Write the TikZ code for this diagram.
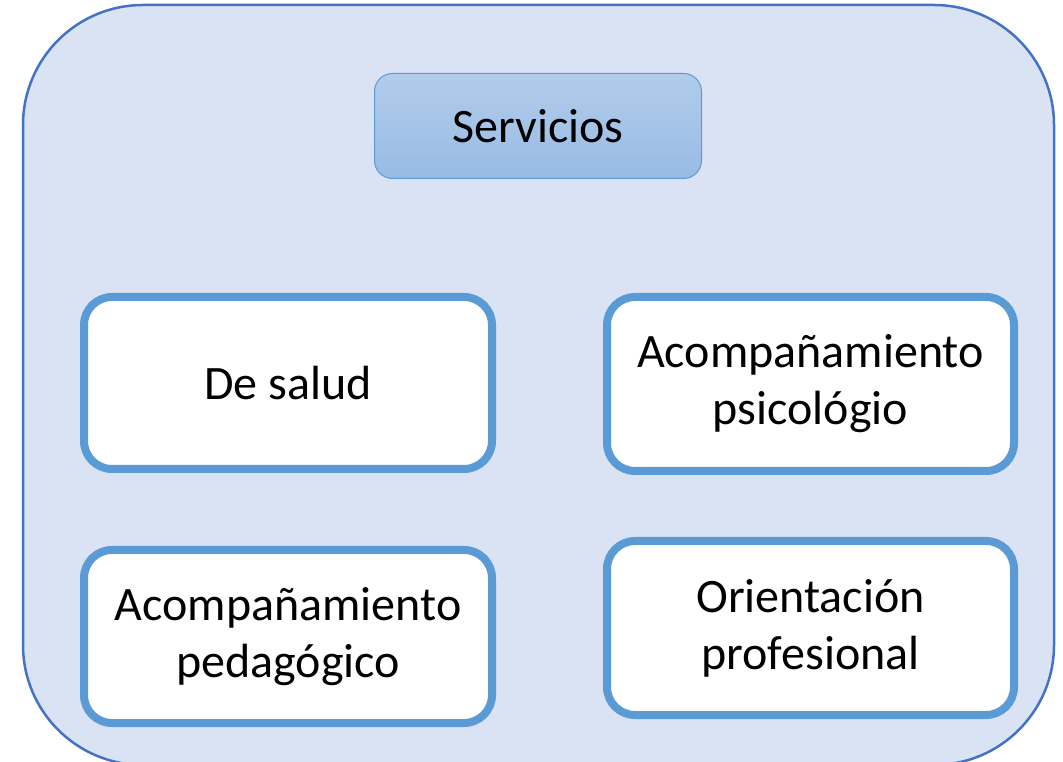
\documentclass[tikz,border=0pt]{standalone}
\usepackage{fontspec}
\setmainfont{Carlito}
\definecolor{outerfill}{HTML}{DAE3F3}
\definecolor{outerline}{HTML}{4472C4}
\definecolor{boxline}{HTML}{5B9BD5}
\definecolor{headtop}{HTML}{B2CCEA}
\definecolor{headbot}{HTML}{97BBE5}
\begin{document}
\begin{tikzpicture}[x=1pt,y=1pt,
  frame/.style={draw=outerline, fill=outerfill, line width=2.5pt, rounded corners=120pt, inner sep=0pt},
  head/.style={draw=boxline, line width=1pt, rounded corners=18pt, top color=headtop, bottom color=headbot, minimum width=327pt, minimum height=105pt, font=\fontsize{48}{56}\selectfont},
  item/.style={draw=boxline, fill=white, line width=8pt, rounded corners=28pt, inner sep=0pt, align=center, font=\fontsize{48}{57}\selectfont}
]
\useasboundingbox (0,0) rectangle (1063,761);
\node[frame, minimum width=1031pt, minimum height=760pt] (outer) at (538.5,376) {};
\node[head] (servicios) at (538,635) {Servicios};
\node[item, minimum width=408pt, minimum height=172pt] (salud) at (288,378) {De salud};
\node[item, minimum width=407pt, minimum height=174pt] (psico) at (810.5,377) {\raisebox{-2pt}{Acompañamiento}\\\raisebox{-2pt}{psicológio}};
\node[item, minimum width=408pt, minimum height=173pt] (pedag) at (288,124.5) {Acompañamiento\\pedagógico};
\node[item, minimum width=407pt, minimum height=174pt] (orient) at (810.5,133) {Orientación\\profesional};
\end{tikzpicture}
\end{document}
